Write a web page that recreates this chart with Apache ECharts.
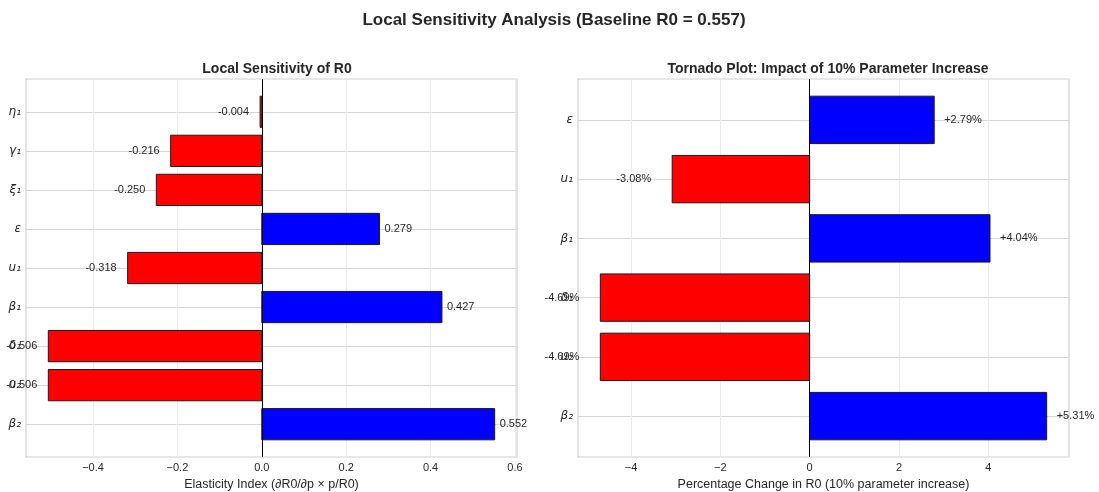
<!DOCTYPE html>
<html>
<head>
<meta charset="utf-8">
<script src="https://cdn.jsdelivr.net/npm/echarts@6/dist/echarts.min.js"></script>
<style>html,body{margin:0;padding:0;background:#fff;}#c{width:1099px;height:492px;}</style>
</head>
<body>
<div id="c"></div>
<script>
// ---- data ----
const leftParams = ['η₁', 'γ₁', 'ξ₁', 'ε', 'u₁', 'β₁', 'δ₁', 'u₂', 'β₂'];
const leftValues = [-0.004, -0.216, -0.250, 0.279, -0.318, 0.427, -0.506, -0.506, 0.552];
const rightParams = ['ε', 'u₁', 'β₁', 'δ₁', 'u₂', 'β₂'];
const rightValues = [2.79, -3.08, 4.04, -4.69, -4.69, 5.31];
const leftTicks = [-0.4, -0.2, 0, 0.2, 0.4, 0.6];
const leftTickLabels = ['−0.4', '−0.2', '0.0', '0.2', '0.4', '0.6'];
const rightTicks = [-4, -2, 0, 2, 4];
const rightTickLabels = ['−4', '−2', '0', '2', '4'];

const FONT = 'Liberation Sans, Arial, sans-serif';
const TXT = '#262626';

function idx(n){ const a=[]; for(let i=0;i<n;i++) a.push(i); return a; }

function makeRender(fmt, gapPos, gapNeg){
  return function(params, api){
    const v = api.value(0), i = api.value(1);
    const p0 = api.coord([0, i - 0.4]);
    const p1 = api.coord([v, i + 0.4]);
    const x = Math.min(p0[0], p1[0]);
    const w = Math.abs(p1[0] - p0[0]);
    const y = Math.min(p0[1], p1[1]);
    const h = Math.abs(p1[1] - p0[1]);
    return {
      type: 'group',
      children: [
        {type: 'rect', shape: {x: x, y: y, width: w, height: h},
         style: {fill: v < 0 ? '#ff0000' : '#0000ff', stroke: '#1a1a1a', lineWidth: 1}},
        {type: 'text', z2: 10,
         style: {text: fmt(v), x: v < 0 ? x - gapNeg : x + w + gapPos, y: y + h / 2,
                 align: v < 0 ? 'right' : 'left', verticalAlign: 'middle',
                 fill: TXT, font: '11px ' + FONT}}
      ]
    };
  };
}

const chart = echarts.init(document.getElementById('c'), null, {renderer: 'canvas'});

function xAxisCfg(gridIndex, min, max, ticks, labels, name){
  return {
    type: 'value', gridIndex: gridIndex, min: min, max: max,
    axisLine: {show: false}, axisTick: {show: false, customValues: ticks},
    axisLabel: {customValues: ticks, margin: 5, color: TXT, fontSize: 11, fontFamily: FONT,
      formatter: function(v){ const k = ticks.findIndex(t => Math.abs(t - v) < 1e-9); return k >= 0 ? labels[k] : ''; }},
    splitLine: {show: true, lineStyle: {color: '#ebebeb', width: 1}},
    name: name, nameLocation: 'middle', nameGap: 20,
    nameTextStyle: {color: TXT, fontSize: 12.5, fontFamily: FONT}
  };
}
function yAxisCfg(gridIndex, min, max, names){
  const t = idx(names.length);
  return {
    type: 'value', gridIndex: gridIndex, min: min, max: max, inverse: true,
    axisLine: {show: false}, axisTick: {show: false, customValues: t},
    axisLabel: {customValues: t, margin: 5, color: TXT, fontSize: 12, fontStyle: 'italic',
      fontFamily: 'DejaVu Sans, sans-serif',
      formatter: function(v){ return names[Math.round(v)]; }},
    splitLine: {show: true, lineStyle: {color: '#d6d6d6', width: 1}}
  };
}

const zeroLine = {silent: true, symbol: 'none', label: {show: false},
  lineStyle: {color: '#000', width: 1, type: 'solid'}, data: [{xAxis: 0}]};

const gridBase = {top: 79, height: 378, width: 491, show: true, borderColor: '#cfcfcf', borderWidth: 1.2,
  backgroundColor: 'transparent', containLabel: false, outerBoundsMode: 'none'};

chart.setOption({
  animation: false,
  backgroundColor: '#fff',
  title: [
    {text: 'Local Sensitivity Analysis (Baseline R0 = 0.557)', left: 549, top: 7, textAlign: 'center',
     textStyle: {fontSize: 17, fontWeight: 'bold', color: TXT, fontFamily: FONT}},
    {text: 'Local Sensitivity of R0', left: 272, top: 57, textAlign: 'center',
     textStyle: {fontSize: 14, fontWeight: 'bold', color: TXT, fontFamily: FONT}},
    {text: 'Tornado Plot: Impact of 10% Parameter Increase', left: 823, top: 57, textAlign: 'center',
     textStyle: {fontSize: 14, fontWeight: 'bold', color: TXT, fontFamily: FONT}}
  ],
  grid: [
    Object.assign({left: 26}, gridBase),
    Object.assign({left: 578}, gridBase)
  ],
  xAxis: [
    xAxisCfg(0, -0.5589, 0.6049, leftTicks, leftTickLabels, 'Elasticity Index (∂R0/∂p × p/R0)'),
    xAxisCfg(1, -5.19, 5.81, rightTicks, rightTickLabels, 'Percentage Change in R0 (10% parameter increase)')
  ],
  yAxis: [
    yAxisCfg(0, -0.84, 8.84, leftParams),
    yAxisCfg(1, -0.69, 5.69, rightParams)
  ],
  series: [
    {type: 'custom', xAxisIndex: 0, yAxisIndex: 0, clip: false,
     data: leftValues.map((v, i) => [v, i]),
     renderItem: makeRender(v => v.toFixed(3), 5, 11),
     markLine: zeroLine},
    {type: 'custom', xAxisIndex: 1, yAxisIndex: 1, clip: false,
     data: rightValues.map((v, i) => [v, i]),
     renderItem: makeRender(v => (v > 0 ? '+' : '') + v.toFixed(2) + '%', 10, 21),
     markLine: zeroLine}
  ]
});
</script>
</body>
</html>
